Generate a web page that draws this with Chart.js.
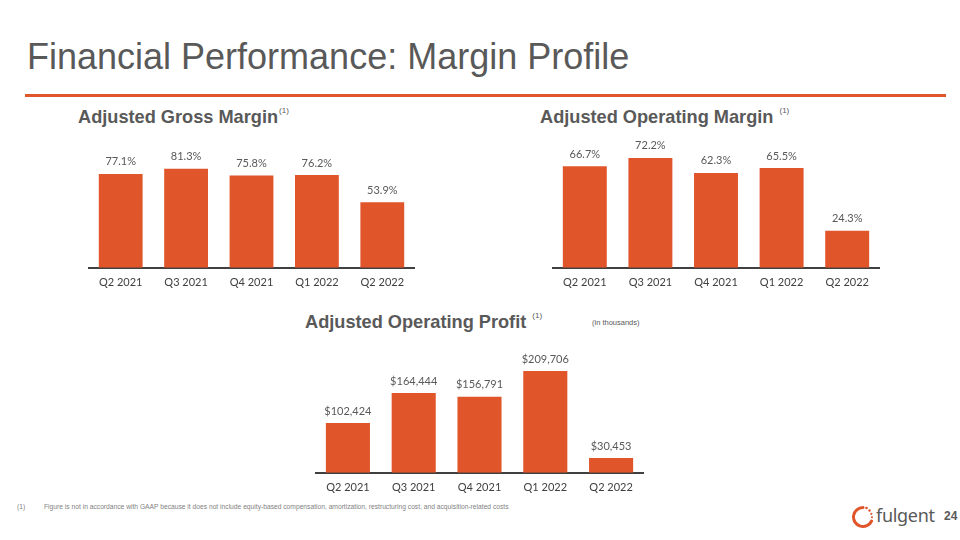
<!DOCTYPE html>
<html>
<head>
<meta charset="utf-8">
<script src="https://cdn.jsdelivr.net/npm/chart.js@4"></script>
<style>
  body { margin:0; width:960px; height:540px; background:#fff; position:relative; overflow:hidden; font-family:"Liberation Sans", Arial, sans-serif; }
  .abs { position:absolute; }
  .page-title { left:27px; top:36px; font-size:36px; color:#595959; white-space:nowrap; }
  .rule { left:25px; top:94px; width:921px; height:3px; background:#E0552A; }
  .sec-title { font-weight:bold; font-size:18.2px; color:#595959; white-space:nowrap; }
  .sec-title sup { font-weight:normal; font-size:8px; vertical-align:10px; margin-left:1px; }
  .note { font-size:7.5px; color:#595959; }
  .footnote { left:17px; top:503px; font-size:6.7px; color:#7f7f7f; white-space:nowrap; }
  .footnote span { display:inline-block; width:27px; }
  canvas { position:absolute; }
</style>
</head>
<body>
<div class="abs page-title">Financial Performance: Margin Profile</div>
<div class="abs rule"></div>

<div class="abs sec-title" style="left:78px;top:106px">Adjusted Gross Margin<sup>(1)</sup></div>
<div class="abs sec-title" style="left:540px;top:106px">Adjusted Operating Margin <sup>(1)</sup></div>
<div class="abs sec-title" style="left:305px;top:311px">Adjusted Operating Profit <sup>(1)</sup></div>
<div class="abs note" style="left:592px;top:318px">(in thousands)</div>

<canvas id="gross" width="327" height="177" style="left:88px;top:120px"></canvas>
<canvas id="opmargin" width="328" height="177" style="left:552px;top:120px"></canvas>
<canvas id="opprofit" width="329" height="177" style="left:315px;top:325px"></canvas>

<div class="abs footnote"><span>(1)</span>Figure is not in accordance with GAAP because it does not include equity-based compensation, amortization, restructuring cost, and acquisition-related costs</div>

<svg class="abs" style="left:849px;top:503px" width="26" height="28" viewBox="0 0 26 28">
  <path d="M 14 4.5 A 9.5 9.5 0 1 0 22.6 18" fill="none" stroke="#E0552A" stroke-width="3" stroke-linecap="round"/>
  <circle cx="17.5" cy="5" r="1.3" fill="#E0552A"/>
  <circle cx="20.5" cy="7.5" r="1.2" fill="#E0552A"/>
  <circle cx="22.3" cy="10.8" r="1.1" fill="#E0552A"/>
  <circle cx="23" cy="14.3" r="1" fill="#E0552A"/>
</svg>
<div class="abs" style="left:876px;top:503px;font-family:'Noto Sans',sans-serif;font-size:18px;color:#595959;letter-spacing:-0.3px">fulgent</div>
<div class="abs" style="left:944px;top:509px;font-size:12px;font-weight:bold;color:#595959">24</div>

<script>
// Chart data
const quarters = ['Q2 2021', 'Q3 2021', 'Q4 2021', 'Q1 2022', 'Q2 2022'];
const grossMargin = [77.1, 81.3, 75.8, 76.2, 53.9];
const operatingMargin = [66.7, 72.2, 62.3, 65.5, 24.3];
const operatingProfit = [102424, 164444, 156791, 209706, 30453]; // in thousands

const BAR = '#E0552A';

const valueLabels = {
  id: 'valueLabels',
  afterDatasetsDraw(chart, args, opts) {
    const ctx = chart.ctx;
    const meta = chart.getDatasetMeta(0);
    ctx.save();
    ctx.font = '11px Lato, "Open Sans", sans-serif';
    ctx.fillStyle = '#595959';
    ctx.textAlign = 'center';
    ctx.textBaseline = 'middle';
    meta.data.forEach((bar, i) => {
      ctx.fillText(opts.fmt(chart.data.datasets[0].data[i]), bar.x, bar.y - 12);
    });
    ctx.restore();
  }
};

function makeBarChart(id, values, yMax, fmt) {
  return new Chart(document.getElementById(id).getContext('2d'), {
    type: 'bar',
    data: {
      labels: quarters,
      datasets: [{ data: values, backgroundColor: BAR, barPercentage: 0.67, categoryPercentage: 1 }],
    },
    options: {
      responsive: false,
      animation: false,
      layout: { padding: { top: 26, left: 0, right: 0, bottom: 0 } },
      plugins: { legend: { display: false }, tooltip: { enabled: false }, valueLabels: { fmt } },
      scales: {
        x: {
          grid: { display: false, drawTicks: false },
          border: { display: true, color: '#404040', width: 2 },
          ticks: { color: '#404040', padding: 8, font: { family: 'Lato, "Open Sans", sans-serif', size: 11 } },
        },
        y: { display: false, min: 0, max: yMax },
      },
    },
    plugins: [valueLabels],
  });
}

makeBarChart('gross', grossMargin, 100, v => v.toFixed(1) + '%');
makeBarChart('opmargin', operatingMargin, 80, v => v.toFixed(1) + '%');
makeBarChart('opprofit', operatingProfit, 251000, v => '$' + v.toLocaleString('en-US'));
</script>
</body>
</html>
